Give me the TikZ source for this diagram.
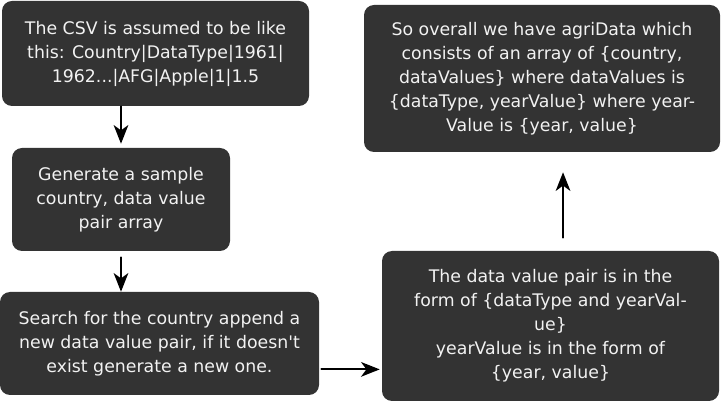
\documentclass[tikz,border=0pt]{standalone}
\usepackage{fontspec}
\setmainfont{DejaVu Sans}
\usepackage{tikz}
\usetikzlibrary{arrows.meta,calc,positioning}
\definecolor{agrigray}{RGB}{51,51,51}
\definecolor{agritext}{RGB}{242,242,242}
\tikzset{
  every picture/.append style={line cap=round,line join=round},
  agri box/.style={fill=agrigray,text=agritext,rounded corners=7.5pt,align=center,inner sep=0pt,font=\fontsize{13pt}{18pt}\selectfont},
  agri flow/.style={line width=1.5pt,-{Stealth[length=14pt,width=11pt,inset=4pt]}}
}

\begin{document}
\begin{tikzpicture}[x=0.75pt,y=-0.75pt]
  \useasboundingbox (0,0) rectangle (721,402);
  % left column
  \node[agri box,minimum width=230.25pt,minimum height=78.75pt] (csv) at (155.5,53.5)
    {The CSV is assumed to be like\\this: Country|DataType|1961|\\1962...|AFG|Apple|1|1.5};
  \node[agri box,minimum width=163.5pt,minimum height=77.25pt] (sample) at (121,199.5)
    {Generate a sample\\country, data value\\pair array};
  \node[agri box,minimum width=239.25pt,minimum height=77.25pt] (search) at (159.5,343.5)
    {Search for the country append a\\new data value pair, if it doesn\textquotesingle t\\exist generate a new one.};
  % right column
  \node[agri box,minimum width=252.75pt,minimum height=112.5pt] (pair) at (550.5,326)
    {The data value pair is in the\\form of \{dataType and yearVal-\\ue\}\\yearValue is in the form of\\\{year, value\}};
  \node[agri box,minimum width=267pt,minimum height=110.25pt] (overall) at (542,78.5)
    {So overall we have agriData which\\consists of an array of \{country,\\dataValues\} where dataValues is\\\{dataType, yearValue\} where year-\\Value is \{year, value\}};
  % connectors
  \draw[agri flow,shorten >=3pt] (sample.north |- csv.south) -- (sample.north);
  \draw[agri flow,shorten <=4.5pt] (sample.south) -- (sample.south |- search.north);
  \coordinate (link) at ($(search.south east)!0.25!(search.north east)$);
  \draw[agri flow,shorten <=1.5pt,shorten >=1.5pt] (link) -- (link -| pair.west);
  \coordinate (up) at ([xshift=9.4pt]pair.north);
  \draw[agri flow,shorten <=9.75pt,shorten >=15pt] (up) -- (up |- overall.south);
\end{tikzpicture}
\end{document}
